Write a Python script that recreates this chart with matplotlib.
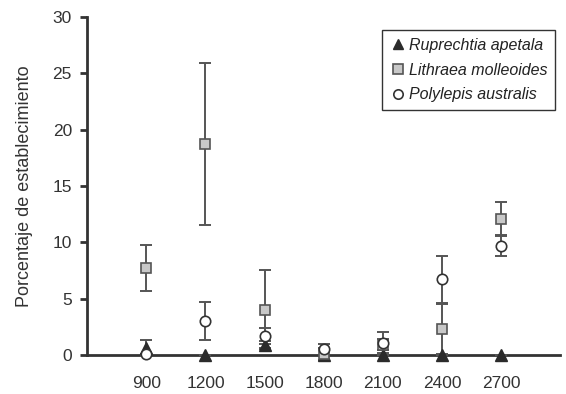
import matplotlib.pyplot as plt

altitud = [900, 1200, 1500, 1800, 2100, 2400, 2700]

ruprechtia = [0.6, 0.0, 0.9, 0.0, 0.0, 0.0, 0.0]
ruprechtia_err = [0.7, 0.0, 0.3, 0.0, 0.0, 0.0, 0.0]

lithraea = [7.7, 18.7, 4.0, 0.1, 0.9, 2.3, 12.1]
lithraea_err = [2.05, 7.2, 3.5, 0.5, 0.5, 2.2, 1.5]

polylepis = [0.1, 3.0, 1.7, 0.5, 1.1, 6.7, 9.7]
polylepis_err = [0.0, 1.7, 0.7, 0.5, 0.9, 2.1, 0.95]

dark = '#333333'
plt.rcParams['font.family'] = ['Liberation Sans', 'DejaVu Sans']

fig = plt.figure(figsize=(5.66, 3.94), dpi=100)
ax = fig.add_axes([0.154, 0.099, 0.836, 0.858])

common = dict(fmt='none', ecolor='#555555', elinewidth=1.4, capsize=4.5,
              capthick=1.4, clip_on=False, zorder=2)
ax.errorbar(altitud, ruprechtia, yerr=ruprechtia_err, **common)
ax.errorbar(altitud, lithraea, yerr=lithraea_err, **common)
ax.errorbar(altitud, polylepis, yerr=polylepis_err, **common)

ax.plot(altitud, ruprechtia, linestyle='none', marker='^', markersize=8,
        color='#2b2b2b', markeredgecolor='#2b2b2b', clip_on=False, zorder=3,
        label='Ruprechtia apetala')
ax.plot(altitud, lithraea, linestyle='none', marker='s', markersize=7.5,
        markerfacecolor='#c8c8c8', markeredgecolor='#555555', markeredgewidth=1.2,
        clip_on=False, zorder=4, label='Lithraea molleoides')
ax.plot(altitud, polylepis, linestyle='none', marker='o', markersize=7.5,
        markerfacecolor='white', markeredgecolor='#333333', markeredgewidth=1.2,
        clip_on=False, zorder=5, label='Polylepis australis')

ax.set_xlim(600, 3000)
ax.set_ylim(0, 30)
ax.set_xticks(altitud)
ax.set_yticks(range(0, 31, 5))
ax.tick_params(axis='x', length=0, pad=15, labelsize=12.5, labelcolor=dark)
ax.tick_params(axis='y', length=5, width=2, color=dark, labelsize=12.5, labelcolor=dark, pad=6)
for s in ['top', 'right']:
    ax.spines[s].set_visible(False)
for s in ['left', 'bottom']:
    ax.spines[s].set_linewidth(2)
    ax.spines[s].set_color(dark)
ax.spines['bottom'].set_zorder(1)

ax.set_ylabel('Porcentaje de establecimiento', fontsize=13, color=dark, labelpad=14)

leg = ax.legend(loc='upper right', bbox_to_anchor=(1.006, 0.985), fancybox=False,
                edgecolor='#333333', framealpha=1, handletextpad=0.2,
                handlelength=1.0, borderpad=0.5, labelspacing=0.6,
                markerscale=0.9, prop={'style': 'italic', 'size': 11.5})
leg.get_frame().set_linewidth(1)
for t in leg.get_texts():
    t.set_color('#222222')

fig.savefig('out.png', dpi=100)
